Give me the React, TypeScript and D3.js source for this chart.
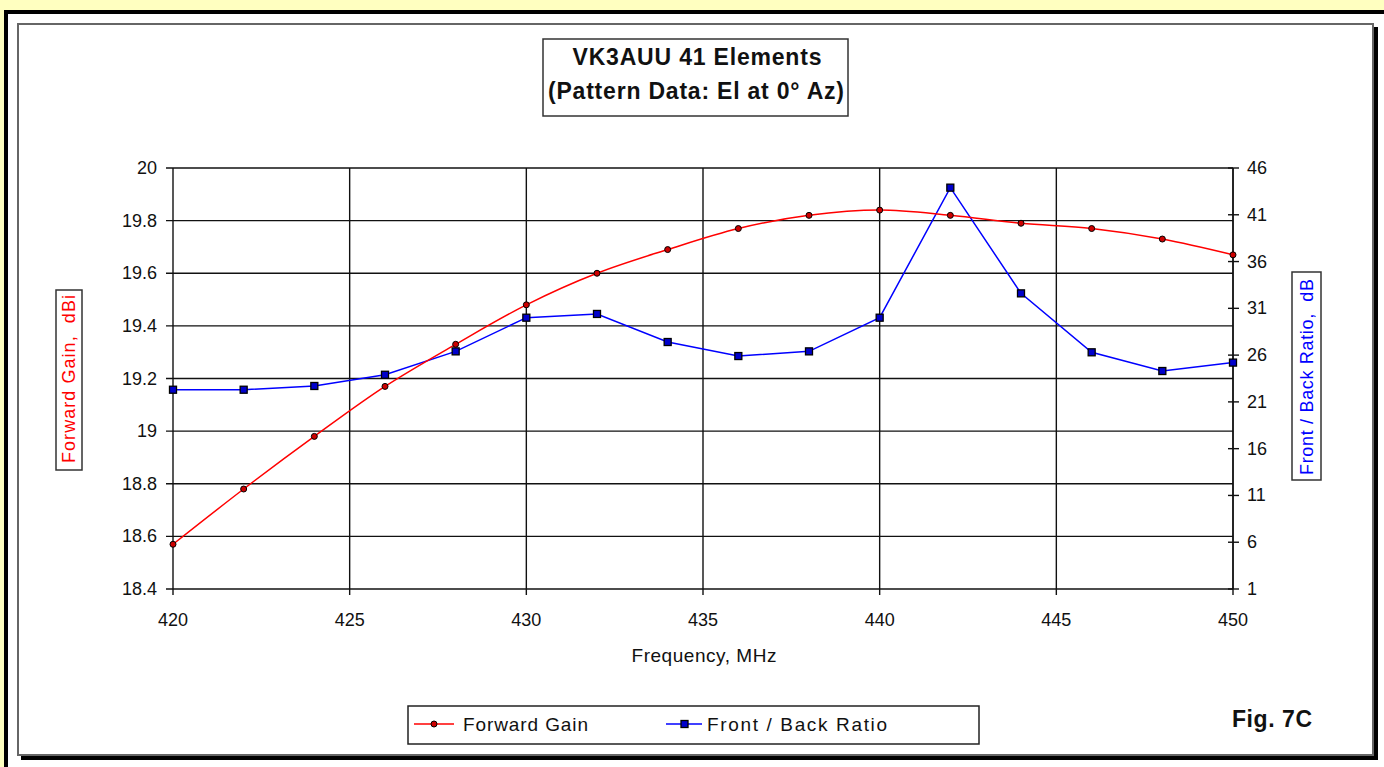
import { useEffect, useRef } from 'react';
import * as d3 from 'd3';

const frequencies = [420, 422, 424, 426, 428, 430, 432, 434, 436, 438, 440, 442, 444, 446, 448, 450];
const forwardGain = [18.57, 18.78, 18.98, 19.17, 19.33, 19.48, 19.6, 19.69, 19.77, 19.82, 19.84, 19.82, 19.79, 19.77, 19.73, 19.67];
const frontBack = [22.3, 22.3, 22.7, 23.9, 26.4, 30.0, 30.4, 27.4, 25.9, 26.4, 30.0, 43.9, 32.6, 26.3, 24.3, 25.2];
const xTicks = [420, 425, 430, 435, 440, 445, 450];
const leftTicks = [18.4, 18.6, 18.8, 19, 19.2, 19.4, 19.6, 19.8, 20];
const rightTicks = [1, 6, 11, 16, 21, 26, 31, 36, 41, 46];

const W = 1384;
const H = 767;
const FONT = 'Liberation Sans, Arial, sans-serif';

export default function App() {
  const ref = useRef<SVGSVGElement>(null);

  useEffect(() => {
    const svg = d3.select(ref.current);
    svg.selectAll('*').remove();

    // page + frames
    svg.append('rect').attr('width', W).attr('height', H).attr('fill', '#FFFFC0');
    svg.append('rect').attr('x', 4).attr('y', 10).attr('width', W - 4).attr('height', H - 10).attr('fill', '#fff');
    svg.append('rect').attr('x', 4).attr('y', 10).attr('width', W - 4).attr('height', 4).attr('fill', '#000');
    svg.append('rect').attr('x', 4).attr('y', 10).attr('width', 4).attr('height', H - 10).attr('fill', '#000');
    svg.append('rect').attr('x', 1373).attr('y', 27).attr('width', 5).attr('height', 733).attr('fill', '#000');
    svg.append('rect').attr('x', 21).attr('y', 755).attr('width', 1357).attr('height', 5).attr('fill', '#000');
    svg.append('rect').attr('x', 18).attr('y', 24).attr('width', 1355).attr('height', 731)
      .attr('fill', '#fff').attr('stroke', '#666').attr('stroke-width', 2);

    const x = d3.scaleLinear().domain([420, 450]).range([173, 1233]);
    const yL = d3.scaleLinear().domain([18.4, 20]).range([589, 168]);
    const yR = d3.scaleLinear().domain([1, 46]).range([589, 168]);

    const g = svg.append('g');

    // grid
    g.selectAll('line.h').data(leftTicks).enter().append('line')
      .attr('x1', 166).attr('x2', 1233)
      .attr('y1', (d) => yL(d)).attr('y2', (d) => yL(d))
      .attr('stroke', '#111').attr('stroke-width', 1.4);
    g.selectAll('line.v').data(xTicks).enter().append('line')
      .attr('x1', (d) => x(d)).attr('x2', (d) => x(d))
      .attr('y1', 168).attr('y2', 595)
      .attr('stroke', '#111').attr('stroke-width', 1.4);
    // right axis
    g.append('line').attr('x1', 1233).attr('x2', 1233).attr('y1', 168).attr('y2', 589)
      .attr('stroke', '#111').attr('stroke-width', 1.4);
    g.selectAll('line.rt').data(rightTicks).enter().append('line')
      .attr('x1', 1228).attr('x2', 1239)
      .attr('y1', (d) => yR(d)).attr('y2', (d) => yR(d))
      .attr('stroke', '#111').attr('stroke-width', 1.4);

    // tick labels
    g.selectAll('text.lt').data(leftTicks).enter().append('text')
      .attr('x', 157).attr('y', (d) => yL(d) + 6)
      .attr('text-anchor', 'end').attr('font-family', FONT).attr('font-size', 18).attr('fill', '#111')
      .text((d) => d3.format('')(+d.toFixed(1)));
    g.selectAll('text.rt').data(rightTicks).enter().append('text')
      .attr('x', 1247).attr('y', (d) => yR(d) + 6)
      .attr('text-anchor', 'start').attr('font-family', FONT).attr('font-size', 18).attr('fill', '#111')
      .text((d) => d);
    g.selectAll('text.xt').data(xTicks).enter().append('text')
      .attr('x', (d) => x(d)).attr('y', 626)
      .attr('text-anchor', 'middle').attr('font-family', FONT).attr('font-size', 18).attr('fill', '#111')
      .text((d) => d);

    g.append('text').attr('x', 704).attr('y', 662).attr('text-anchor', 'middle')
      .attr('font-family', FONT).attr('font-size', 19).attr('fill', '#111')
      .attr('textLength', 145).text('Frequency, MHz');

    // axis title boxes
    g.append('rect').attr('x', 56).attr('y', 290).attr('width', 26).attr('height', 180)
      .attr('fill', '#fff').attr('stroke', '#333').attr('stroke-width', 1.5);
    g.append('text').attr('transform', 'translate(75,379) rotate(-90)').attr('text-anchor', 'middle')
      .attr('font-family', FONT).attr('font-size', 18).attr('fill', '#f00')
      .attr('xml:space', 'preserve').attr('textLength', 168).text('Forward Gain,  dBi');
    g.append('rect').attr('x', 1292).attr('y', 272).attr('width', 29).attr('height', 208)
      .attr('fill', '#fff').attr('stroke', '#333').attr('stroke-width', 1.5);
    g.append('text').attr('transform', 'translate(1313,377) rotate(-90)').attr('text-anchor', 'middle')
      .attr('font-family', FONT).attr('font-size', 18).attr('fill', '#00f')
      .attr('xml:space', 'preserve').attr('textLength', 196).text('Front / Back Ratio,  dB');

    // title
    g.append('rect').attr('x', 543).attr('y', 39).attr('width', 305).attr('height', 77)
      .attr('fill', '#fff').attr('stroke', '#333').attr('stroke-width', 1.5);
    g.append('text').attr('x', 697).attr('y', 65).attr('text-anchor', 'middle')
      .attr('font-family', FONT).attr('font-weight', 'bold').attr('font-size', 23).attr('fill', '#111')
      .attr('textLength', 249).text('VK3AUU 41 Elements');
    g.append('text').attr('x', 696).attr('y', 99).attr('text-anchor', 'middle')
      .attr('font-family', FONT).attr('font-weight', 'bold').attr('font-size', 23).attr('fill', '#111')
      .attr('textLength', 296).text('(Pattern Data: El at 0° Az)');

    // series
    const pts = frequencies.map((f, i) => ({ f, gain: forwardGain[i], fb: frontBack[i] }));
    const gainLine = d3.line<typeof pts[number]>().x((d) => x(d.f)).y((d) => yL(d.gain)).curve(d3.curveCatmullRom);
    const fbLine = d3.line<typeof pts[number]>().x((d) => x(d.f)).y((d) => yR(d.fb));

    g.append('path').attr('d', fbLine(pts)).attr('fill', 'none').attr('stroke', '#00f').attr('stroke-width', 1.5);
    g.append('path').attr('d', gainLine(pts)).attr('fill', 'none').attr('stroke', '#f00').attr('stroke-width', 1.5);

    g.selectAll('rect.fb').data(pts).enter().append('rect')
      .attr('x', (d) => x(d.f) - 3.5).attr('y', (d) => yR(d.fb) - 3.5)
      .attr('width', 7).attr('height', 7)
      .attr('fill', '#00c').attr('stroke', '#000').attr('stroke-width', 1.3);
    g.selectAll('circle.gain').data(pts).enter().append('circle')
      .attr('cx', (d) => x(d.f)).attr('cy', (d) => yL(d.gain)).attr('r', 3)
      .attr('fill', '#c00').attr('stroke', '#000').attr('stroke-width', 1);

    // legend
    g.append('rect').attr('x', 408).attr('y', 706).attr('width', 571).attr('height', 38)
      .attr('fill', '#fff').attr('stroke', '#222').attr('stroke-width', 1.5);
    g.append('line').attr('x1', 414).attr('x2', 454).attr('y1', 724).attr('y2', 724).attr('stroke', '#f00').attr('stroke-width', 1.5);
    g.append('circle').attr('cx', 434).attr('cy', 724).attr('r', 3).attr('fill', '#c00').attr('stroke', '#000');
    g.append('text').attr('x', 463).attr('y', 731).attr('font-family', FONT).attr('font-size', 19).attr('fill', '#111')
      .attr('textLength', 125).text('Forward Gain');
    g.append('line').attr('x1', 666).attr('x2', 702).attr('y1', 724).attr('y2', 724).attr('stroke', '#00f').attr('stroke-width', 1.5);
    g.append('rect').attr('x', 681).attr('y', 720.5).attr('width', 7).attr('height', 7).attr('fill', '#00c').attr('stroke', '#000').attr('stroke-width', 1.3);
    g.append('text').attr('x', 707).attr('y', 731).attr('font-family', FONT).attr('font-size', 19).attr('fill', '#111')
      .attr('xml:space', 'preserve').attr('textLength', 180).text('Front / Back Ratio');

    g.append('text').attr('x', 1232).attr('y', 727).attr('font-family', FONT).attr('font-weight', 'bold')
      .attr('font-size', 23).attr('fill', '#111').attr('textLength', 80).text('Fig. 7C');
  }, []);

  return (
    <div style={{ position: 'fixed', left: 0, top: 0 }}>
      <svg ref={ref} width={W} height={H} viewBox={`0 0 ${W} ${H}`} style={{ display: 'block' }} />
    </div>
  );
}
